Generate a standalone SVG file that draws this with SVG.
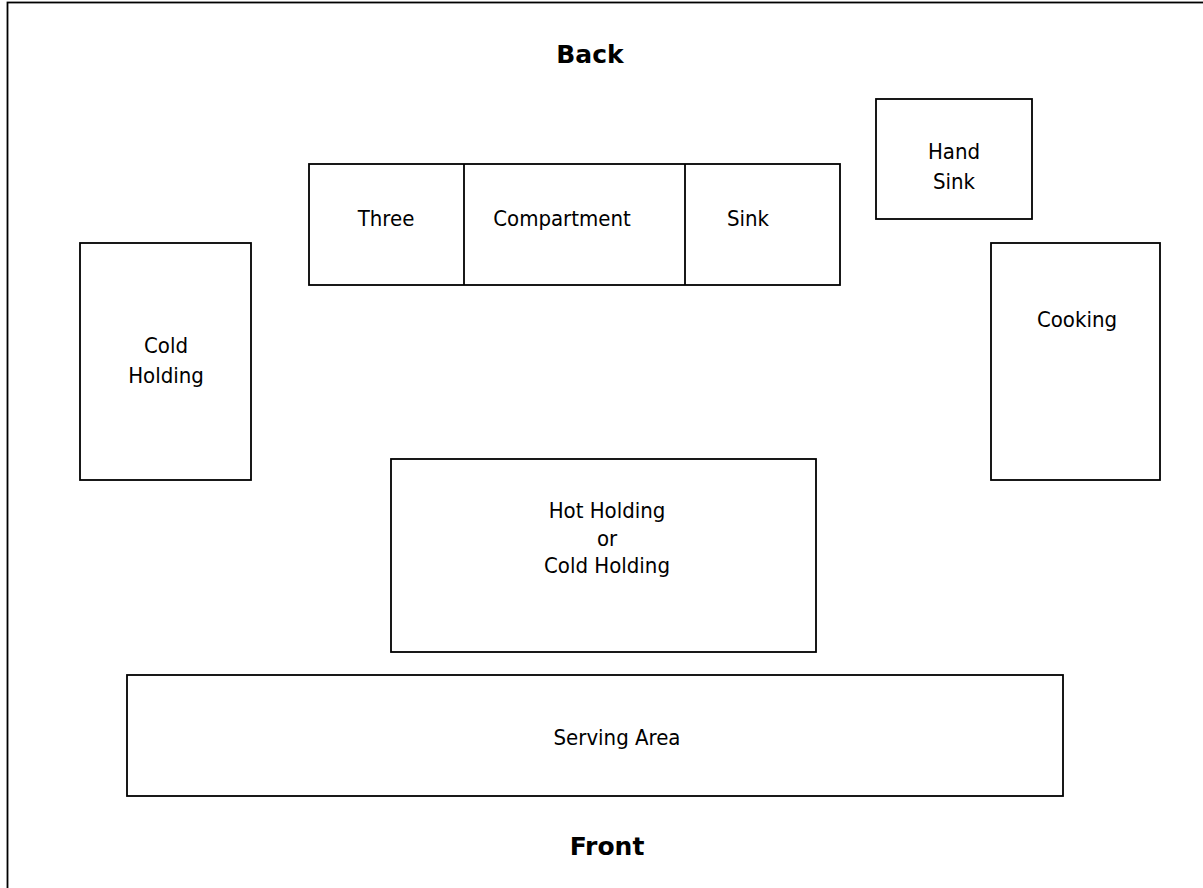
<svg xmlns="http://www.w3.org/2000/svg" width="1203" height="888" viewBox="0 0 1203 888">
<style>
.box{fill:#fff;stroke:#000;stroke-width:1.8}
.t{font-family:"DejaVu Sans Condensed","DejaVu Sans",sans-serif;font-stretch:condensed;font-size:22px;fill:#000;text-anchor:middle}
.h{font-family:"DejaVu Sans",sans-serif;font-weight:bold;font-size:25px;fill:#000;text-anchor:middle}
</style>
<rect x="0" y="0" width="1203" height="888" fill="#fff"/>
<rect id="frame" x="7.5" y="2.5" width="1300" height="1000" fill="none" stroke="#000" stroke-width="1.8"/>
<g id="back"><text class="h" x="590" y="63">Back</text></g>
<g id="front"><text class="h" x="607" y="855">Front</text></g>
<g id="three-compartment-sink">
<rect class="box" x="309" y="164" width="531" height="121"/>
<line x1="464" y1="164" x2="464" y2="285" stroke="#000" stroke-width="1.8"/>
<line x1="685" y1="164" x2="685" y2="285" stroke="#000" stroke-width="1.8"/>
<text class="t" x="386" y="226">Three</text>
<text class="t" x="562" y="226">Compartment</text>
<text class="t" x="748" y="226">Sink</text>
</g>
<g id="hand-sink">
<rect class="box" x="876" y="99" width="156" height="120"/>
<text class="t" x="954" y="159">Hand</text>
<text class="t" x="954" y="189">Sink</text>
</g>
<g id="cold-holding">
<rect class="box" x="80" y="243" width="171" height="237"/>
<text class="t" x="166" y="353">Cold</text>
<text class="t" x="166" y="383">Holding</text>
</g>
<g id="cooking">
<rect class="box" x="991" y="243" width="169" height="237"/>
<text class="t" x="1077" y="327">Cooking</text>
</g>
<g id="hot-holding">
<rect class="box" x="391" y="459" width="425" height="193"/>
<text class="t" x="607" y="518">Hot Holding</text>
<text class="t" x="607" y="546">or</text>
<text class="t" x="607" y="573">Cold Holding</text>
</g>
<g id="serving-area">
<rect class="box" x="127" y="675" width="936" height="121"/>
<text class="t" x="617" y="745">Serving Area</text>
</g>
<g id="connectors"/>
</svg>
